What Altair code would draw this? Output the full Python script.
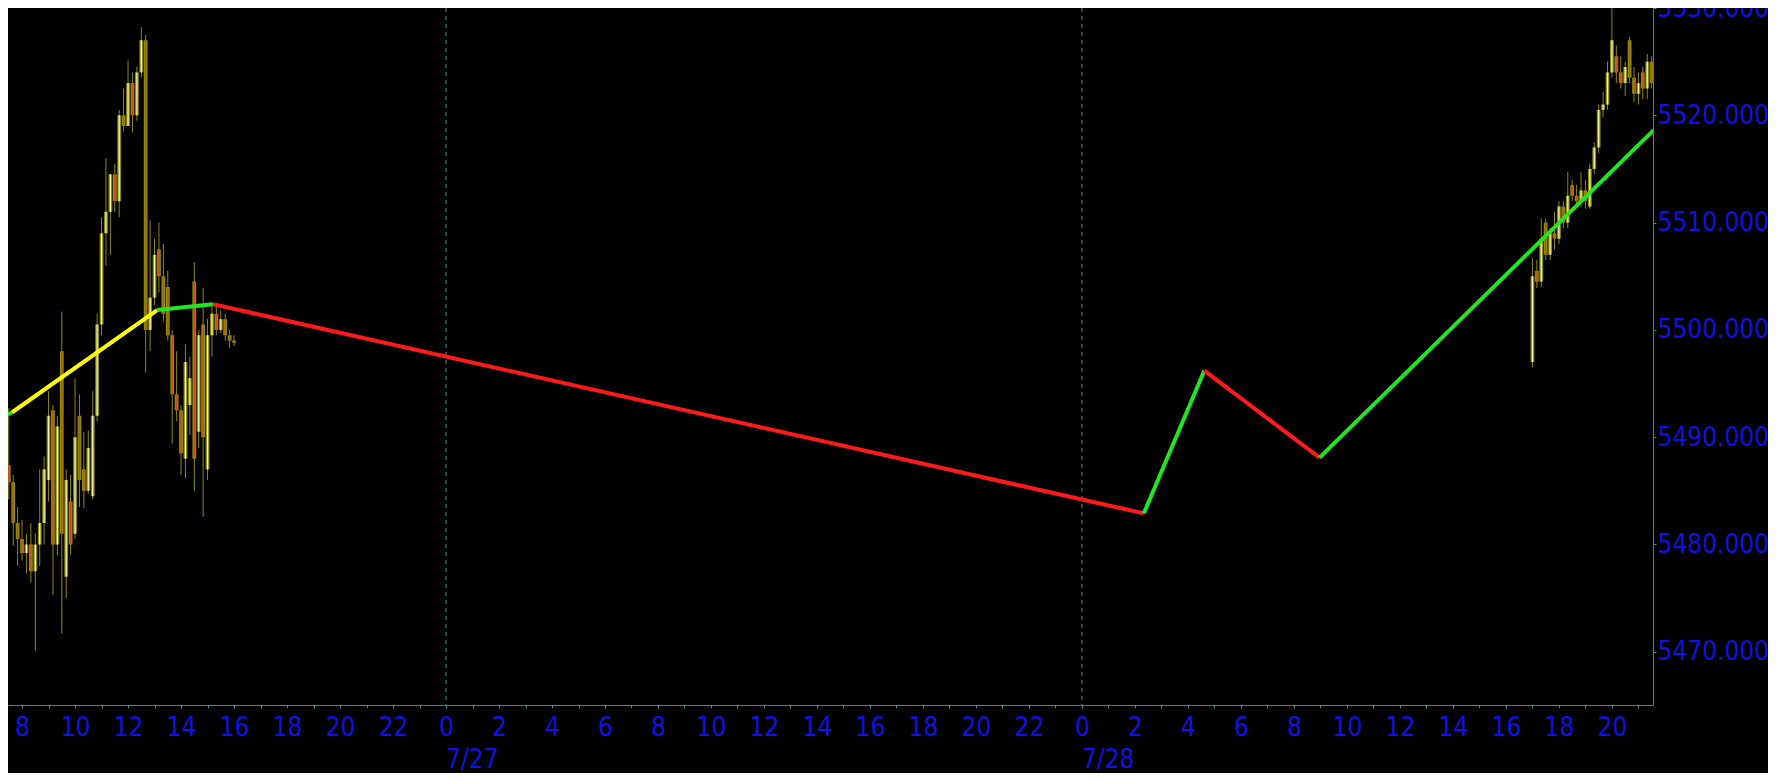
import altair as alt
import pandas as pd

# ---------------- data ----------------
# 10-minute OHLC bars, 7/26
d1_time = ["07:30", "07:40", "07:50", "08:00", "08:10", "08:20", "08:30", "08:40", "08:50",
           "09:00", "09:10", "09:20", "09:30", "09:40", "09:50", "10:00", "10:10", "10:20",
           "10:30", "10:40", "10:50", "11:00", "11:10", "11:20", "11:30", "11:40", "11:50",
           "12:00", "12:10", "12:20", "12:30", "12:40", "12:50", "13:00", "13:10", "13:20",
           "13:30", "13:40", "13:50", "14:00", "14:10", "14:20", "14:30", "14:40", "14:50",
           "15:00", "15:10", "15:20", "15:30", "15:40", "15:50", "16:00"]
d1_open = [5487.4, 5485.8, 5482.0, 5480.5, 5479.2, 5480.0, 5477.5, 5480.0, 5482.0,
           5486.0, 5492.5, 5480.0, 5498.0, 5477.0, 5484.0, 5481.0, 5492.0, 5487.0,
           5485.0, 5484.5, 5492.0, 5500.5, 5509.0, 5511.0, 5514.5, 5512.0, 5520.0,
           5519.0, 5523.0, 5520.0, 5524.0, 5527.0, 5500.0, 5503.0, 5507.5, 5505.0,
           5504.0, 5499.5, 5494.0, 5492.5, 5488.0, 5493.0, 5504.5, 5490.5, 5500.5,
           5487.0, 5499.5, 5501.5, 5500.0, 5501.0, 5499.5, 5499.0]
d1_high = [5492.7, 5486.5, 5483.5, 5482.3, 5481.0, 5482.0, 5481.0, 5487.0, 5488.2,
           5494.3, 5493.0, 5492.0, 5501.7, 5487.0, 5486.5, 5495.5, 5494.0, 5490.5,
           5490.6, 5494.3, 5501.5, 5510.5, 5516.0, 5514.0, 5515.5, 5520.5, 5522.5,
           5525.1, 5524.0, 5524.5, 5528.2, 5527.5, 5510.2, 5508.5, 5510.0, 5508.0,
           5505.5, 5500.0, 5498.0, 5493.0, 5498.7, 5497.5, 5506.3, 5500.0, 5503.9,
           5501.0, 5502.5, 5502.5, 5501.8, 5501.5, 5500.0, 5499.5]
d1_low = [5484.2, 5479.9, 5478.0, 5478.5, 5477.3, 5476.5, 5470.1, 5478.0, 5480.0,
          5484.0, 5475.3, 5479.0, 5471.7, 5475.0, 5479.0, 5480.5, 5483.5, 5483.4,
          5484.7, 5484.2, 5491.5, 5499.5, 5506.0, 5507.0, 5511.0, 5510.5, 5518.5,
          5519.0, 5518.4, 5519.5, 5523.5, 5496.0, 5498.0, 5502.3, 5503.5, 5500.8,
          5499.0, 5489.4, 5491.5, 5486.5, 5486.2, 5490.2, 5485.0, 5489.0, 5482.6,
          5486.0, 5497.5, 5499.5, 5499.7, 5499.0, 5498.3, 5498.5]
d1_close = [5485.8, 5482.0, 5480.5, 5479.2, 5480.0, 5477.5, 5480.0, 5482.0, 5487.0,
            5492.0, 5480.0, 5491.0, 5481.0, 5486.0, 5480.0, 5490.0, 5486.0, 5485.0,
            5489.0, 5492.0, 5500.5, 5509.0, 5511.0, 5514.5, 5512.0, 5520.0, 5519.0,
            5523.0, 5520.0, 5524.0, 5527.0, 5500.0, 5503.0, 5507.0, 5505.0, 5501.5,
            5499.5, 5494.0, 5492.5, 5488.5, 5497.0, 5495.5, 5488.0, 5499.5, 5490.0,
            5499.5, 5501.5, 5500.0, 5501.0, 5499.5, 5499.0, 5498.8]

# 10-minute OHLC bars, 7/28
d3_time = ["17:00", "17:10", "17:20", "17:30", "17:40", "17:50", "18:00", "18:10", "18:20",
           "18:30", "18:40", "18:50", "19:00", "19:10", "19:20", "19:30", "19:40", "19:50",
           "20:00", "20:10", "20:20", "20:30", "20:40", "20:50", "21:00", "21:10", "21:20",
           "21:30"]
d3_open = [5497.0, 5505.5, 5504.5, 5510.0, 5507.0, 5509.0, 5508.5, 5511.5, 5510.0,
           5513.5, 5512.5, 5512.0, 5513.0, 5511.5, 5515.0, 5517.0, 5520.5, 5521.0,
           5524.0, 5525.5, 5524.0, 5523.0, 5527.0, 5523.5, 5522.0, 5524.0, 5522.5,
           5525.0]
d3_high = [5506.7, 5506.5, 5510.4, 5510.4, 5509.5, 5511.0, 5512.0, 5512.0, 5514.7,
           5514.0, 5513.5, 5514.7, 5514.0, 5515.5, 5517.5, 5521.0, 5522.2, 5525.0,
           5530.0, 5526.5, 5525.5, 5525.0, 5527.3, 5524.5, 5524.0, 5524.5, 5525.7,
           5525.5]
d3_low = [5496.5, 5503.9, 5504.0, 5506.5, 5506.5, 5507.5, 5508.0, 5509.5, 5509.5,
          5512.0, 5511.4, 5511.5, 5511.3, 5511.3, 5514.5, 5516.5, 5519.8, 5520.5,
          5523.5, 5523.0, 5522.5, 5521.8, 5523.0, 5521.2, 5521.0, 5521.5, 5521.5,
          5522.5]
d3_close = [5505.0, 5504.5, 5508.5, 5507.0, 5509.0, 5508.5, 5511.5, 5510.0, 5512.5,
            5512.5, 5512.0, 5513.0, 5512.0, 5515.0, 5517.0, 5520.5, 5521.0, 5524.0,
            5527.0, 5524.0, 5523.0, 5524.5, 5523.5, 5522.0, 5523.0, 5522.5, 5525.0,
            5523.0]

# zigzag pivots
zz_date = ["7/26", "7/26", "7/26", "7/26", "7/28", "7/28", "7/28", "7/28"]
zz_time = ["07:00", "07:37", "13:06", "15:12", "02:20", "04:37", "08:58", "21:34"]
zz_price = [5491.7, 5492.3, 5501.85, 5502.4, 5482.9, 5496.2, 5488.1, 5518.6]
zz_seg_color = ["#22e622", "#ffff00", "#22e622", "#ff1a1a", "#22e622", "#ff1a1a", "#22e622"]

day_offset = {"7/26": 0, "7/27": 24, "7/28": 48}
day_labels = ["7/27", "7/28"]
y_ticks = [5470, 5480, 5490, 5500, 5510, 5520, 5530]

# ---------------- tables ----------------
def to_hours(day, hhmm):
    h, m = hhmm.split(":")
    return day_offset[day] + int(h) + int(m) / 60.0

rows = []
for day, T, O, H, L, C in [("7/26", d1_time, d1_open, d1_high, d1_low, d1_close),
                           ("7/28", d3_time, d3_open, d3_high, d3_low, d3_close)]:
    for t, o, h, l, c in zip(T, O, H, L, C):
        rows.append({"t": to_hours(day, t), "open": o, "high": h, "low": l, "close": c,
                     "col": "#f2f2b4" if c >= o else "#d24a1a"})
bars = pd.DataFrame(rows)

zz_rows = []
for i in range(len(zz_price) - 1):
    for j in (i, i + 1):
        zz_rows.append({"seg": i, "t": to_hours(zz_date[j], zz_time[j]),
                        "p": zz_price[j], "col": zz_seg_color[i]})
zz = pd.DataFrame(zz_rows)

days = pd.DataFrame({"t": [day_offset[d] for d in day_labels], "label": day_labels})

# ---------------- chart ----------------
BLUE = "#1212e0"
TEAL = "#3a8c8c"
OLIVE = "#8a8a0c"
FONT = "DejaVu Sans Condensed"

xs = alt.Scale(domain=[7.47, 69.55], nice=False, zero=False)
ys = alt.Scale(domain=[5465.04, 5530.0], nice=False, zero=False)

x_axis = alt.Axis(values=list(range(8, 70)), labelExpr="datum.value % 2 == 0 ? '' + (datum.value % 24) : ''",
                  title=None, grid=False, tickSize=3, labelPadding=6, labelFlush=False,
                  labelOverlap=False)
y_axis = alt.Axis(values=y_ticks, format=".4f", orient="right", title=None, grid=False,
                  tickSize=3, labelPadding=1, labelOverlap=False, labelFlush=False)

X = alt.X("t:Q", scale=xs, axis=x_axis)

grid = alt.Chart(days).mark_rule(color="#3e9494", strokeDash=[4, 4], strokeWidth=1).encode(x=X)

wick = alt.Chart(bars).mark_rule(color=OLIVE, strokeWidth=1, clip=True).encode(
    x=X, y=alt.Y("low:Q", scale=ys, axis=y_axis), y2="high:Q")
body = alt.Chart(bars).mark_rule(color=OLIVE, strokeWidth=3.8, clip=True).encode(
    x=X, y=alt.Y("open:Q", scale=ys, axis=y_axis), y2="close:Q")
inner = alt.Chart(bars).mark_rule(strokeWidth=1.3, clip=True).encode(
    x=X, y=alt.Y("open:Q", scale=ys, axis=y_axis), y2="close:Q",
    color=alt.Color("col:N", scale=None))

zig = alt.Chart(zz).mark_line(strokeWidth=4, clip=True).encode(
    x=X, y=alt.Y("p:Q", scale=ys, axis=y_axis), detail="seg:N",
    color=alt.Color("col:N", scale=None))

date_txt = alt.Chart(days).mark_text(align="left", baseline="top", color=BLUE, font=FONT,
                                     fontSize=26, dx=0).encode(
    x=X, y=alt.value(739), text="label:N")

chart = alt.layer(grid, wick, body, inner, zig, date_txt).properties(
    width=1645, height=697,
    background="#000000",
    padding={"left": 0, "top": 0, "right": 115, "bottom": 68},
    autosize=alt.AutoSizeParams(type="none"),
).configure_view(stroke="transparent").configure_axis(
    domainColor=TEAL, tickColor=TEAL, labelColor=BLUE, labelFont=FONT, labelFontSize=26,
    domainWidth=1, tickWidth=1,
)

chart.save("out.html", embed_options={"renderer": "svg", "actions": False})
